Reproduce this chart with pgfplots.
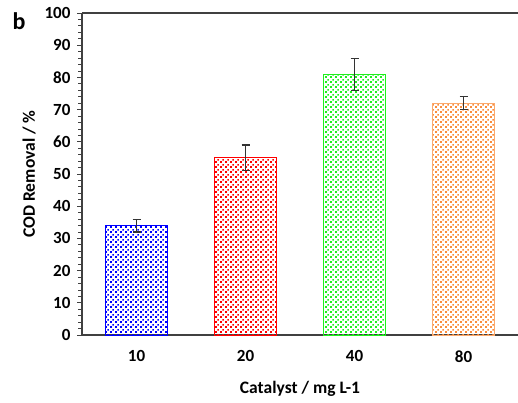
\documentclass[border=0pt]{standalone}
\usepackage{pgfplots}
\pgfplotsset{compat=1.18}
\usepackage{fontspec}
\setmainfont{Carlito}
\usetikzlibrary{patterns.meta}
\tikzdeclarepattern{
  name=mydots, type=uncolored,
  bounding box={(0pt,0pt) and (5pt,5pt)},
  tile size={(5pt,5pt)},
  code={
    \fill (0.2pt,0.2pt) rectangle (2.2pt,2.2pt);
    \fill (2.7pt,2.7pt) rectangle (4.7pt,4.7pt);
  }
}
\definecolor{cblue}{RGB}{0,0,255}
\definecolor{cred}{RGB}{255,0,0}
\definecolor{cgreen}{RGB}{30,240,30}
\definecolor{corange}{RGB}{250,140,60}
\begin{document}
\begin{tikzpicture}[x=1pt,y=1pt]
\path[use as bounding box] (0,0) rectangle (518,402);
\begin{axis}[
  at={(82pt,67pt)}, anchor=south west,
  scale only axis, width=436pt, height=322pt,
  ybar, bar shift=0pt, bar width=0.57,
  xmin=-0.5, xmax=3.5, ymin=0, ymax=100,
  axis x line*=bottom, axis y line*=left,
  axis line style={line width=1.2pt, color=black!75},
  xtick={0,1,2,3}, xticklabels={10,20,40,80},
  major x tick style={draw=none},
  extra x ticks={-0.5,0.5,1.5,2.5}, extra x tick labels={},
  extra x tick style={major tick length=6pt, tick style={line width=0.9pt, black!75, draw=black!75}},
  ytick={0,10,...,100}, minor y tick num=4,
  tick align=outside,
  major tick length=5pt, minor tick length=4pt,
  y tick style={line width=0.8pt, black!75},
  /pgf/number format/assume math mode=true,
  ticklabel style={font=\fontsize{17}{19}\selectfont\bfseries},
  xticklabel style={yshift=-7pt},
  yticklabel style={xshift=-3pt},
  xlabel={Catalyst / mg L-1},
  ylabel={COD Removal / \%},
  label style={font=\fontsize{17.5}{19}\selectfont\bfseries},
  xlabel style={yshift=-1pt},
  ylabel style={yshift=2pt},
  error bars/y dir=both, error bars/y explicit,
  error bars/error bar style={line width=1.1pt, black!80},
  error bars/error mark options={rotate=90, mark size=4pt, line width=1.1pt, black!80},
  clip=false,
]
\addplot[draw=cblue, line width=1pt, pattern={mydots}, pattern color=cblue] coordinates {(0,34) +- (0,2)};
\addplot[draw=cred, line width=1pt, pattern={mydots}, pattern color=cred] coordinates {(1,55) +- (0,4)};
\addplot[draw=cgreen, line width=1pt, pattern={mydots}, pattern color=cgreen] coordinates {(2,81) +- (0,5)};
\addplot[draw=corange!75, line width=1pt, pattern={mydots}, pattern color=corange] coordinates {(3,72) +- (0,2)};
\draw[line width=1.2pt, black!75] (rel axis cs:0,1) -- (rel axis cs:1,1);
\end{axis}
\node[anchor=center, font=\fontsize{24}{26}\selectfont\bfseries] at (19,381) {b};
\end{tikzpicture}
\end{document}
